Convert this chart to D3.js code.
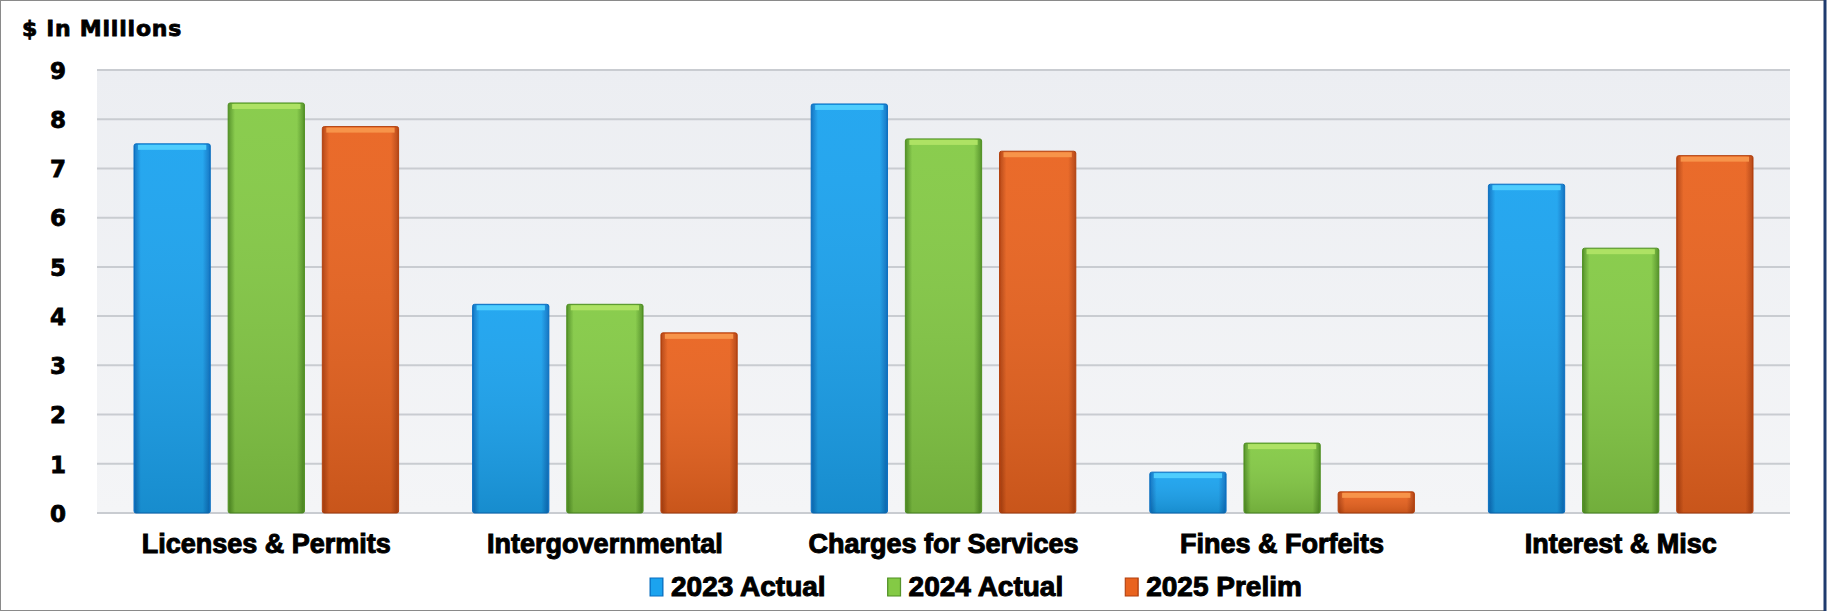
<!DOCTYPE html>
<html lang="en">
<head>
    <meta charset="UTF-8">
    <title>Revenue by Source</title>
    <script src="https://d3js.org/d3.v7.min.js"></script>
    <style>
        body { margin: 0; background: #fff; }
        svg text {
            font-family: "Liberation Sans", Arial, sans-serif;
            font-weight: bold;
            fill: #000;
            stroke: #000;
            stroke-width: 1px;
        }
        svg text.wide {
            font-family: "DejaVu Sans", "Liberation Sans", sans-serif;
            stroke-width: 0.8px;
        }
    </style>
</head>
<body>
    <svg id="chart"></svg>

    <script>
        const width = 1829, height = 611;

        const categories = ["Licenses & Permits", "Intergovernmental", "Charges for Services", "Fines & Forfeits", "Interest & Misc"];
        const seriesNames = ["2023 Actual", "2024 Actual", "2025 Prelim"];
        const actual2023 = [7.50, 4.24, 8.31, 0.83, 6.68];
        const actual2024 = [8.33, 4.24, 7.60, 1.42, 5.38];
        const prelim2025 = [7.85, 3.66, 7.35, 0.43, 7.26];
        const yTicks = [0, 1, 2, 3, 4, 5, 6, 7, 8, 9];

        const seriesValues = [actual2023, actual2024, prelim2025];
        const colors = [
            { light: "#4fcdfd", mid: "#1ba3ef", dark: "#0b6fc0" },
            { light: "#aee264", mid: "#84ca45", dark: "#4f8f22" },
            { light: "#f7944a", mid: "#e9631f", dark: "#b2400e" }
        ];

        const margin = { top: 70, right: 39, bottom: 98, left: 97 };

        const svg = d3.select("#chart")
            .attr("width", width)
            .attr("height", height);

        const defs = svg.append("defs");

        // gradients for the bevelled bars
        colors.forEach((c, i) => {
            const g = defs.append("linearGradient")
                .attr("id", "bar" + i)
                .attr("x1", "0").attr("x2", "1").attr("y1", "0").attr("y2", "0");
            g.append("stop").attr("offset", "0%").attr("stop-color", c.dark);
            g.append("stop").attr("offset", "9%").attr("stop-color", c.mid);
            g.append("stop").attr("offset", "90%").attr("stop-color", c.mid);
            g.append("stop").attr("offset", "100%").attr("stop-color", c.dark);
        });
        const shade = defs.append("linearGradient")
            .attr("id", "shade")
            .attr("x1", "0").attr("x2", "0").attr("y1", "0").attr("y2", "1");
        shade.append("stop").attr("offset", "0%").attr("stop-color", "#fff").attr("stop-opacity", 0.05);
        shade.append("stop").attr("offset", "100%").attr("stop-color", "#000").attr("stop-opacity", 0.14);

        const bg = defs.append("linearGradient")
            .attr("id", "plotbg")
            .attr("x1", "0").attr("x2", "0").attr("y1", "0").attr("y2", "1");
        bg.append("stop").attr("offset", "0%").attr("stop-color", "#eceef2");
        bg.append("stop").attr("offset", "100%").attr("stop-color", "#f4f5f7");

        // frame
        svg.append("rect")
            .attr("x", 0.5).attr("y", 0.5)
            .attr("width", width - 4).attr("height", height - 1)
            .attr("fill", "#fff")
            .attr("stroke", "#8a8a8a");
        svg.append("line")
            .attr("x1", width - 4).attr("x2", width - 4)
            .attr("y1", 0).attr("y2", height)
            .attr("stroke", "#1f3b6e").attr("stroke-width", 3);

        const x0 = d3.scaleBand()
            .domain(categories)
            .range([margin.left, width - margin.right]);

        const x1 = d3.scaleBand()
            .domain(seriesNames)
            .range([37, x0.bandwidth() - 37])
            .paddingInner(0.19);

        const y = d3.scaleLinear()
            .domain([0, 9])
            .range([height - margin.bottom, margin.top]);

        // plot background
        svg.append("rect")
            .attr("x", margin.left)
            .attr("y", y(9))
            .attr("width", width - margin.left - margin.right)
            .attr("height", y(0) - y(9))
            .attr("fill", "url(#plotbg)");

        // gridlines
        svg.append("g")
            .selectAll("line")
            .data(yTicks)
            .join("line")
            .attr("x1", margin.left)
            .attr("x2", width - margin.right)
            .attr("y1", d => y(d))
            .attr("y2", d => y(d))
            .attr("stroke", "#c9ccd1")
            .attr("stroke-width", 2);

        // y axis labels
        const yAxis = svg.append("g")
            .attr("transform", `translate(${margin.left - 30},0)`)
            .call(d3.axisLeft(y).tickValues(yTicks).tickSize(0).tickPadding(0));
        yAxis.select(".domain").remove();
        yAxis.selectAll("text")
            .attr("class", "wide")
            .attr("text-anchor", "middle")
            .attr("x", -9)
            .attr("dy", "0.36em")
            .style("font-size", "23px");

        svg.append("text")
            .attr("class", "wide")
            .attr("x", 22)
            .attr("y", 36)
            .style("font-size", "22px")
            .style("letter-spacing", "0.8px")
            .text("$ in Millions");

        // bars
        const groups = svg.append("g")
            .selectAll("g")
            .data(categories)
            .join("g")
            .attr("transform", d => `translate(${x0(d)},0)`);

        const barData = (d, ci) => seriesNames.map((s, si) => ({ s, si, v: seriesValues[si][ci] }));

        groups.selectAll("rect.bar")
            .data(barData)
            .join("rect")
            .attr("class", "bar")
            .attr("x", d => x1(d.s))
            .attr("y", d => y(d.v))
            .attr("width", x1.bandwidth())
            .attr("height", d => y(0) - y(d.v))
            .attr("rx", 2)
            .attr("fill", d => `url(#bar${d.si})`)
            .attr("stroke", d => colors[d.si].dark)
            .attr("stroke-width", 1);

        groups.selectAll("rect.shade")
            .data(barData)
            .join("rect")
            .attr("class", "shade")
            .attr("x", d => x1(d.s) + 1)
            .attr("y", d => y(d.v) + 1)
            .attr("width", x1.bandwidth() - 2)
            .attr("height", d => y(0) - y(d.v) - 1)
            .attr("fill", "url(#shade)");

        // top highlight
        groups.selectAll("rect.hi")
            .data(barData)
            .join("rect")
            .attr("class", "hi")
            .attr("x", d => x1(d.s) + 4)
            .attr("y", d => y(d.v) + 1)
            .attr("width", x1.bandwidth() - 8)
            .attr("height", 5)
            .attr("fill", d => colors[d.si].light);

        // category labels
        svg.append("g")
            .selectAll("text")
            .data(categories)
            .join("text")
            .attr("x", d => x0(d) + x0.bandwidth() / 2)
            .attr("y", 553)
            .attr("text-anchor", "middle")
            .style("font-size", "27px")
            .text(d => d);

        // legend, laid out from the measured label widths
        const legend = svg.append("g")
            .attr("transform", "translate(650,578)");
        let lx = 0;
        seriesNames.forEach((name, i) => {
            const item = legend.append("g").attr("transform", `translate(${lx},0)`);
            item.append("rect")
                .attr("width", 13)
                .attr("height", 18)
                .attr("fill", `url(#bar${i})`)
                .attr("stroke", colors[i].dark);
            const t = item.append("text")
                .attr("x", 21)
                .attr("y", 18)
                .style("font-size", "28px")
                .text(name);
            lx += 21 + t.node().getComputedTextLength() + 62;
        });
    </script>
</body>
</html>
